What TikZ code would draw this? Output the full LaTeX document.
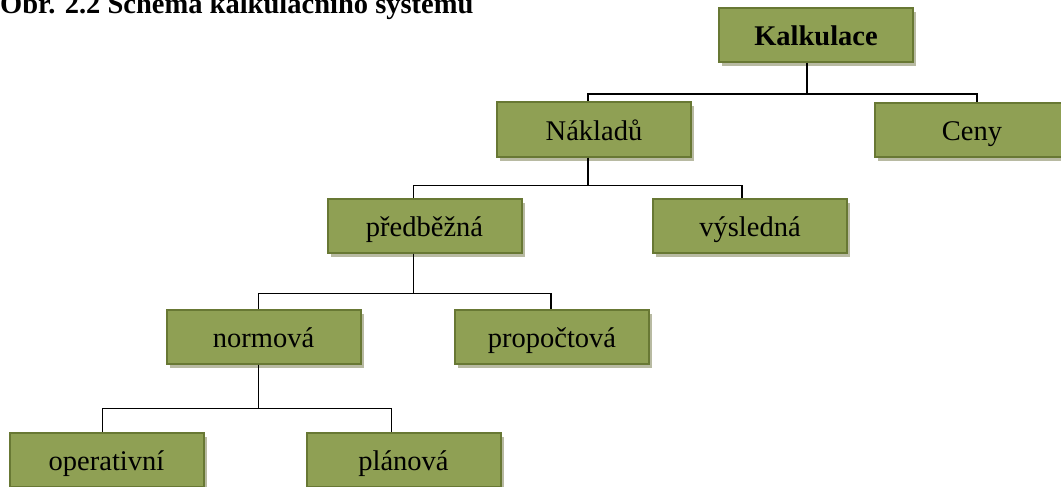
\documentclass[tikz,border=0pt]{standalone}
\usepackage{fontspec}
\setmainfont{Liberation Serif}
\usetikzlibrary{shadows}
\definecolor{boxfill}{RGB}{143,160,84}
\definecolor{boxline}{RGB}{104,120,52}
\definecolor{shadowcol}{RGB}{184,186,162}
\def\boxw{194pt}
\def\boxh{54pt}
\newcommand{\bigfont}{\fontsize{28.5}{34}\selectfont}

\begin{document}
\begin{tikzpicture}[x=1pt, y=-1pt,
    kbox/.style={draw=boxline, line width=2pt, fill=boxfill,
      minimum width=\boxw, minimum height=\boxh, inner sep=0pt, font=\bigfont,
      text height=27pt, text depth=6pt,
      drop shadow={shadow xshift=3pt, shadow yshift=-4pt, fill=shadowcol, opacity=1}},
    link/.style={line width=1.5pt, black}]
  \useasboundingbox (0,0) rectangle (1061,487);

  \node[anchor=base west, inner sep=0pt, font=\bigfont\bfseries] (title) at (0,14)
    {Obr. 2.2 Schéma kalkulačního systému};

  % level 0
  \node[kbox, font=\bigfont\bfseries] (kalk) at (816,35) {Kalkulace};

  % level 1
  \node[kbox] (nakl) at (594,129.5) {Nákladů};
  \node[kbox] (ceny) at (972,130) {Ceny};

  % level 2
  \node[kbox] (pred) at (424.5,225.5) {předběžná};
  \node[kbox] (vysl) at (750,225.5) {výsledná};

  % level 3
  \node[kbox] (norm) at (263.5,336.5) {normová};
  \node[kbox] (prop) at (552,336.5) {propočtová};

  % level 4
  \node[kbox] (oper) at (106.5,460) {operativní};
  \node[kbox] (plan) at (403.5,460) {plánová};

  % connectors
  \draw[link] ([xshift=-9pt]kalk.south) -- ++(0,31) -| ([xshift=-6pt]nakl.north);
  \draw[link] ([xshift=-9pt]kalk.south) -- ++(0,31) -| ([xshift=5pt]ceny.north);

  \draw[link] ([xshift=-6pt]nakl.south) -- ++(0,28) -| ([xshift=-11pt]pred.north);
  \draw[link] ([xshift=-6pt]nakl.south) -- ++(0,28) -| ([xshift=-8pt]vysl.north);

  \draw[link] ([xshift=-11pt]pred.south) -- ++(0,40) -| ([xshift=-5pt]norm.north);
  \draw[link] ([xshift=-11pt]pred.south) -- ++(0,40) -| ([xshift=-1pt]prop.north);

  \draw[link] ([xshift=-5pt]norm.south) -- ++(0,44) -| ([xshift=-4pt]oper.north);
  \draw[link] ([xshift=-5pt]norm.south) -- ++(0,44) -| ([xshift=-12pt]plan.north);
\end{tikzpicture}
\end{document}
